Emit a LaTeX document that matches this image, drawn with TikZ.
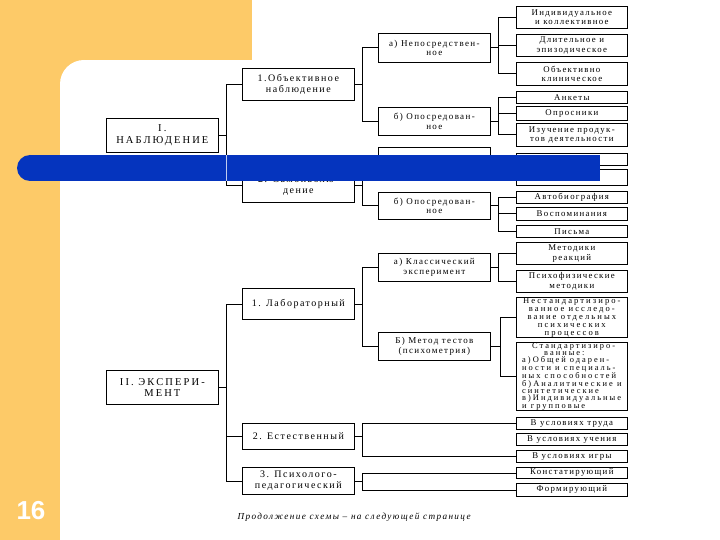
\documentclass[tikz,border=0pt]{standalone}
\usepackage{fontspec}
\setmainfont{Liberation Serif}
\newfontfamily\boxfont{Liberation Serif}[LetterSpace=15]
\newfontfamily\wideboxfont{Liberation Serif}[LetterSpace=20]
\newfontfamily\densefont{Liberation Serif}[LetterSpace=24]
\newfontfamily\numfont{Liberation Sans}
\definecolor{slideorange}{RGB}{253,202,104}
\definecolor{barblue}{RGB}{5,52,190}
\begin{document}
\begin{tikzpicture}[x=1pt,y=-1pt,
  basebox/.style={draw=black, line width=0.7pt, anchor=north west, align=center, inner sep=0.5pt},
  topbox/.style={basebox, minimum width=112pt, minimum height=34pt, font=\wideboxfont\fontsize{10.5}{11.5}\selectfont},
  lbox/.style={basebox, minimum width=112pt, font=\boxfont\fontsize{10}{10.5}\selectfont},
  mbox/.style={basebox, minimum width=112pt, font=\boxfont\fontsize{9}{9.5}\selectfont},
  rbox/.style={basebox, minimum width=111pt, font=\boxfont\fontsize{8.8}{9.5}\selectfont},
  conn/.style={draw=black, line width=0.7pt}
]
\useasboundingbox (0,0) rectangle (720,540);
% slide background
\fill[white] (0,0) rectangle (720,540);
\fill[slideorange] (0,0) rectangle (252,60);
\fill[slideorange] (0,0) rectangle (60,540);
\fill[slideorange] (60,60) rectangle (84,84);
\fill[white] (84,84) circle (24);
\node[font=\numfont\bfseries\fontsize{26}{28}\selectfont, text=white] (pg) at (31,511) {16};

% level 1
\node[topbox] (t1) at (106,118) {I.\\НАБЛЮДЕНИЕ};
\node[topbox] (t2) at (106,370) {II. ЭКСПЕРИ-\\МЕНТ};

% level 2
\node[lbox, minimum height=32pt] (l1) at (242,68) {1.Объективное\\наблюдение};
\node[lbox, minimum height=34pt] (l2) at (242,168) {2. Самонаблю-\\дение};
\node[lbox, minimum height=31pt] (l3) at (242,288) {1. Лабораторный};
\node[lbox, minimum height=26pt] (l4) at (242,423) {2. Естественный};
\node[lbox, minimum height=27pt] (l5) at (242,467) {3. Психолого-\\педагогический};

% level 3
\node[mbox, minimum height=29pt] (m1) at (378,33) {а) Непосредствен-\\ное};
\node[mbox, minimum height=28pt] (m2) at (378,107) {б) Опосредован-\\ное};
\node[mbox, minimum height=33pt] (m3) at (378,147) {а) Непосредствен-\\ное};
\node[mbox, minimum height=27pt] (m4) at (378,192) {б) Опосредован-\\ное};
\node[mbox, minimum height=28pt] (m5) at (378,253) {а) Классический\\эксперимент};
\node[mbox, minimum height=28pt] (m6) at (378,332) {Б) Метод тестов\\(психометрия)};

% level 4
\node[rbox, minimum height=22pt] (r1) at (516,6) {Индивидуальное\\и коллективное};
\node[rbox, minimum height=22pt] (r2) at (516,34) {Длительное и\\эпизодическое};
\node[rbox, minimum height=23pt] (r3) at (516,62) {Объективно\\клиническое};
\node[rbox, minimum height=12pt] (r4) at (516,91) {Анкеты};
\node[rbox, minimum height=14pt] (r5) at (516,106.5) {Опросники};
\node[rbox, minimum height=23pt] (r6) at (516,123) {Изучение продук-\\тов деятельности};
\node[rbox, minimum height=12pt] (r7) at (516,153) {Самоотчет};
\node[rbox, minimum height=16pt] (r8) at (516,169) {};
\node[rbox, minimum height=12pt] (r9) at (516,191) {Автобиография};
\node[rbox, minimum height=13pt] (r10) at (516,207) {Воспоминания};
\node[rbox, minimum height=12pt] (r11) at (516,225) {Письма};
\node[rbox, minimum height=22pt] (r12) at (516,242) {Методики\\реакций};
\node[rbox, minimum height=22pt] (r13) at (516,270) {Психофизические\\методики};
\node[rbox, minimum height=40pt, inner sep=0pt, font=\densefont\fontsize{8.6}{7.9}\selectfont] (r14) at (516,297) {Нестандартизиро-\\ванное исследо-\\вание отдельных\\психических\\процессов};
\node[rbox, minimum height=68pt, inner sep=0pt, align=left, font=\densefont\fontsize{8.4}{7.3}\selectfont] (r15) at (516,342) {\hspace*{10pt}Стандартизиро-\\\hspace*{22pt}ванные:\\а)Общей одарен-\\ности и специаль-\\ных способностей\\б)Аналитические и\\синтетические\\в)Индивидуальные\\и групповые};
\node[rbox, minimum height=12pt] (r16) at (516,417) {В условиях труда};
\node[rbox, minimum height=12pt] (r17) at (516,433) {В условиях учения};
\node[rbox, minimum height=12pt] (r18) at (516,450) {В условиях игры};
\node[rbox, minimum height=11pt] (r19) at (516,467) {Констатирующий};
\node[rbox, minimum height=13pt] (r20) at (516,483) {Формирующий};

% connectors level 1 -> 2
\draw[conn] (t1.east) -- ++(8,0);
\draw[conn] (l1.west) -- ++(-16,0) |- (l2.west);
\draw[conn] (t2.east) -- ++(8,0);
\draw[conn] (l3.west) -- ++(-16,0) |- (l5.west);
\draw[conn] (l4.west) -- ++(-16,0);

% level 2 -> 3
\draw[conn] (l1.east) -- ++(8,0);
\draw[conn] (m1.west) -- ++(-16,0) |- (m2.west);
\draw[conn] (l2.east) -- ++(8,0);
\draw[conn] (m3.west) -- ++(-16,0) |- (m4.west);
\draw[conn] (l3.east) -- ++(8,0);
\draw[conn] (m5.west) -- ++(-16,0) |- (m6.west);

% level 3 -> 4
\draw[conn] (m1.east) -- ++(8,0);
\draw[conn] (r1.west) -- ++(-18,0) |- (r3.west);
\draw[conn] (r2.west) -- ++(-18,0);
\draw[conn] (m2.east) -- ++(8,0);
\draw[conn] (r4.west) -- ++(-18,0) |- (r6.west);
\draw[conn] (r5.west) -- ++(-18,0);
\draw[conn] (m3.east) -- ++(8,0);
\draw[conn] (r7.west) -- ++(-18,0) |- (r8.west);
\draw[conn] (m4.east) -- ++(8,0);
\draw[conn] (r9.west) -- ++(-18,0) |- (r11.west);
\draw[conn] (r10.west) -- ++(-18,0);
\draw[conn] (m5.east) -- ++(8,0);
\draw[conn] (r12.west) -- ++(-18,0) |- (r13.west);
\draw[conn] (m6.east) -- ++(10,0);
\draw[conn] (r14.west) -- ++(-16,0) |- (r15.west);

% level 2 -> 4 directly
\draw[conn] (l4.east) -- ++(8,0);
\draw[conn] (r16.west) -- ++(-154,0) |- (r18.west);
\draw[conn] (l5.east) -- ++(8,0);
\draw[conn] (r19.west) -- ++(-154,0) |- (r20.west);

% footer
\node[font=\boxfont\itshape\fontsize{9.2}{10}\selectfont, anchor=west] (foot) at (234,517) {Продолжение схемы – на следующей странице};

% blue bar over the scheme
\fill[barblue] (30,155) rectangle (600,181);
\fill[barblue] (30,168) circle (13);
\draw[white!75!barblue, line width=0.5pt] (226,155) -- (226,181);
\end{tikzpicture}
\end{document}
